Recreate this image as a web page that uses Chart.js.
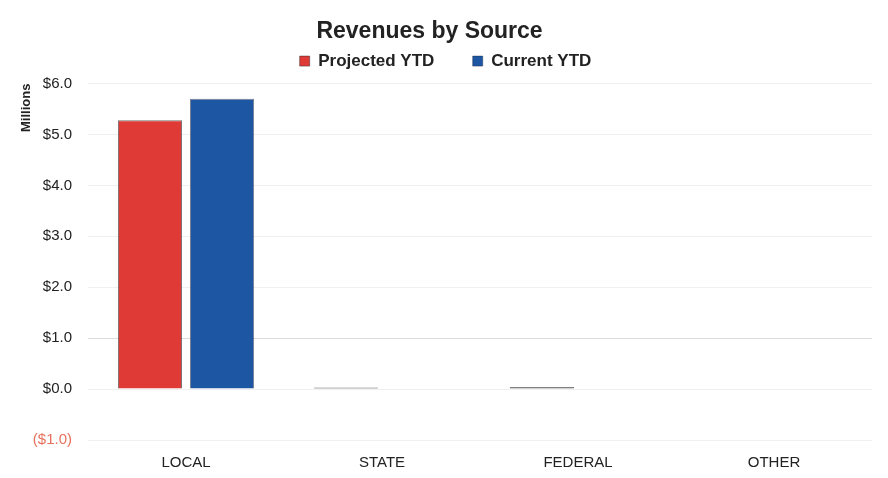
<!DOCTYPE html>
<html>
<head>
<meta charset="utf-8">
<script src="https://cdn.jsdelivr.net/npm/chart.js@4/dist/chart.umd.min.js"></script>
<style>
  html, body { margin: 0; padding: 0; background: #fff; }
  #wrap { position: relative; width: 888px; height: 478px; }
</style>
</head>
<body>
<div id="wrap"><canvas id="c" width="888" height="478"></canvas></div>
<script>
// Revenue sources and year-to-date amounts (millions of dollars)
const categories = ['LOCAL', 'STATE', 'FEDERAL', 'OTHER'];
const projectedYTD = [5.28, 0.03, 0.04, 0];
const currentYTD = [5.70, 0, 0, 0];
const yTicks = [-1, 0, 1, 2, 3, 4, 5, 6];

const FONT = '"Liberation Sans", Arial, sans-serif';

// Near-zero bars are only a few pixels tall; show them as a dark outline
const fillFor = color => ctx => {
  const v = ctx.raw;
  return (typeof v === 'number' && Math.abs(v) < 0.1) ? '#4a4a4a' : color;
};

// Give the legend a fixed height so the plot starts just below it
const legendHeight = {
  id: 'legendHeight',
  beforeLayout(chart) {
    const lg = chart.legend;
    if (lg && !lg._fixedHeight) {
      const fit = lg.fit;
      lg.fit = function () { fit.call(this); this.height = 41; };
      lg._fixedHeight = true;
    }
  }
};

new Chart(document.getElementById('c'), {
  type: 'bar',
  data: {
    labels: categories,
    datasets: [
      {
        label: 'Projected YTD',
        data: projectedYTD,
        backgroundColor: fillFor('#e03a36'),
        borderColor: 'rgba(60,50,50,0.7)',
        borderWidth: { top: 1, left: 1, right: 1, bottom: 0 },
        borderSkipped: 'bottom',
        categoryPercentage: 0.735,
        barPercentage: 0.89
      },
      {
        label: 'Current YTD',
        data: currentYTD,
        backgroundColor: fillFor('#1d56a3'),
        borderColor: 'rgba(30,40,70,0.6)',
        borderWidth: { top: 1, left: 1, right: 1, bottom: 0 },
        borderSkipped: 'bottom',
        categoryPercentage: 0.735,
        barPercentage: 0.89
      }
    ]
  },
  plugins: [legendHeight],
  options: {
    responsive: false,
    animation: false,
    layout: { padding: { left: 19, right: 16, top: 0, bottom: 0 } },
    plugins: {
      title: {
        display: true,
        text: 'Revenues by Source     ',
        color: '#222',
        font: { family: FONT, size: 23, weight: 'bold' },
        padding: { top: 18, bottom: -3 }
      },
      legend: {
        position: 'top',
        labels: {
          color: '#222',
          font: { family: FONT, size: 17, weight: 'bold' },
          boxWidth: 10,
          boxHeight: 10,
          padding: 10,
          // widen the gap after the first entry
          generateLabels(chart) {
            const items = Chart.defaults.plugins.legend.labels.generateLabels(chart);
            items[0].fillStyle = '#e03a36';
            items[1].fillStyle = '#1d56a3';
            items[0].text += '      ';
            return items;
          }
        }
      },
      tooltip: { enabled: false }
    },
    scales: {
      x: {
        grid: { display: false },
        border: { display: false },
        ticks: {
          color: '#222',
          font: { family: FONT, size: 15 },
          padding: 6
        },
        afterFit(scale) { scale.height = 38; }
      },
      y: {
        min: -1,
        max: 6,
        afterBuildTicks(scale) {
          scale.ticks = yTicks.map(v => ({ value: v }));
        },
        grid: {
          color: ctx => (ctx.tick && ctx.tick.value === 1) ? '#dcdcdc' : '#f0f0f0',
          drawTicks: false
        },
        border: { display: false },
        ticks: {
          padding: 16,
          font: { family: FONT, size: 15 },
          color: ctx => ctx.tick.value < 0 ? '#e8705a' : '#222',
          callback: v => v < 0 ? '($' + Math.abs(v).toFixed(1) + ')' : '$' + v.toFixed(1)
        },
        title: {
          display: true,
          text: 'Millions',
          align: 'end',
          color: '#222',
          font: { family: FONT, size: 13, weight: 'bold' },
          padding: { top: 0, bottom: 0 }
        },
        afterFit(scale) { scale.width = 69; }
      }
    }
  }
});
</script>
</body>
</html>
